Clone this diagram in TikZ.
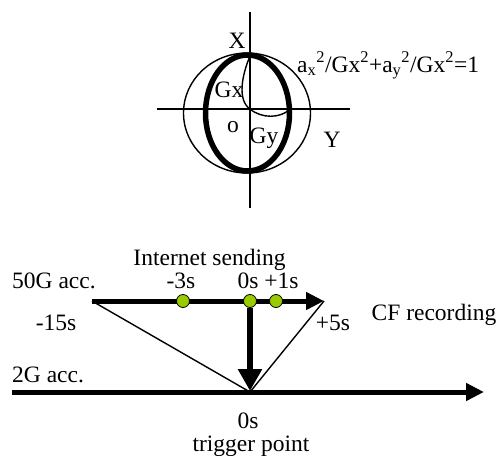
\documentclass[tikz,border=0pt]{standalone}
\usepackage{fontspec}
\setmainfont{Liberation Serif}
\usetikzlibrary{arrows.meta}
\definecolor{dotgreen}{RGB}{153,204,0}
\tikzset{
  lbl/.style={anchor=base, inner sep=0pt, font=\fontsize{23.5}{26}\selectfont},
  axis/.style={line width=1.8pt},
  thinline/.style={line width=1.4pt},
  thickarrow/.style={line width=5pt, -{Triangle[length=18pt,width=17pt]}},
  dotnode/.style={circle, draw=black, line width=0.8pt, fill=dotgreen, minimum size=13pt, inner sep=0pt}
}
\begin{document}
\begin{tikzpicture}[x=1pt,y=-1pt]
\useasboundingbox (0,0) rectangle (499,456);
% ---- top figure ----
\coordinate (vtop) at (250,12);
\coordinate (vbot) at (250,208);
\coordinate (hl) at (157,109);
\coordinate (hr) at (350,109);
\coordinate (O) at (250,109);
\draw[axis] (vtop) -- (vbot);
\draw[axis] (hl) -- (hr);
\draw[thinline] (247,113) ellipse [x radius=63.5, y radius=60];
\draw[line width=5.5pt] (247.5,113) ellipse [x radius=42, y radius=58];
\coordinate (gxtop) at (250,56);
\coordinate (gyend) at (289,110);
\draw[thinline] (gxtop) .. controls (242,75) and (237,100) .. (O);
\draw[thinline] (O) .. controls (262,119) and (280,118) .. (gyend);
\node[lbl] (X) at (237,48) {X};
\node[lbl] (Gx) at (229,97) {Gx};
\node[lbl] (o) at (233,132) {o};
\node[lbl] (Gy) at (264,143) {Gy};
\node[lbl] (Y) at (332,147) {Y};
\node[lbl, anchor=base west] (eq) at (297,72) {a\textsubscript{x}\textsuperscript{2}/Gx\textsuperscript{2}+a\textsubscript{y}\textsuperscript{2}/Gx\textsuperscript{2}=1};
% ---- bottom figure ----
\coordinate (s50) at (92,301);
\coordinate (e50) at (324,301);
\coordinate (s2) at (12,392);
\coordinate (e2) at (484,392);
\coordinate (trig) at (250,392);
\draw[thinline] (s50) -- (trig);
\draw[thinline] (e50) -- (trig);
\draw[thickarrow] (s50) -- (e50);
\draw[thickarrow] (s2) -- (e2);
\node[dotnode] (d1) at (183,301) {};
\node[dotnode] (d2) at (250,301) {};
\node[dotnode] (d3) at (276,301) {};
\draw[line width=5.5pt, -{Triangle[length=22pt,width=23pt]}] (d2.south) -- (250,391);
\node[lbl] (isend) at (209.5,265) {Internet sending};
\node[lbl, anchor=base west] (g50) at (12,288) {50G acc.};
\node[lbl] (m3) at (181,288) {-3s};
\node[lbl] (p1) at (268,288) {0s +1s};
\node[lbl] (m15) at (56,330) {-15s};
\node[lbl] (p5) at (333,330) {+5s};
\node[lbl] (cf) at (434,320) {CF recording};
\node[lbl, anchor=base west] (g2) at (12,382) {2G acc.};
\node[lbl] (zero) at (248,428) {0s};
\node[lbl] (tp) at (251,451) {trigger point};
\end{tikzpicture}
\end{document}
